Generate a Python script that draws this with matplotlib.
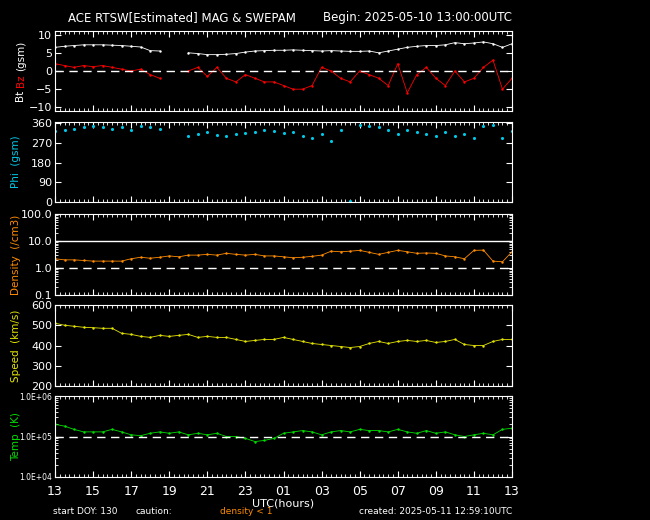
import matplotlib
matplotlib.use('Agg')
import matplotlib.pyplot as plt
import numpy as np

nan = np.nan
hours = np.arange(0, 24.5, 0.5)  # hours since 2025-05-10 13:00 UTC

bt = [6.5, 6.8, 7.0, 7.2, 7.2, 7.2, 7.1, 7.0, 6.8, 6.6, 5.6, 5.5, nan, nan,
      5.0, 4.8, 4.5, 4.5, 4.6, 4.8, 5.2, 5.5, 5.6, 5.7, 5.7, 5.8, 5.7, 5.6,
      5.5, 5.6, 5.5, 5.4, 5.4, 5.5, 5.0, 5.5, 6.0, 6.5, 6.8, 7.0, 7.0, 7.2,
      7.8, 7.5, 7.7, 8.0, 7.5, 6.5, 7.5]
bz = [2.0, 1.5, 1.0, 1.5, 1.2, 1.5, 1.0, 0.5, 0.0, 0.5, -1.0, -2.0, nan, nan,
      0.0, 1.0, -1.5, 1.0, -2.0, -3.0, -1.0, -2.0, -3.0, -3.0, -4.0, -5.0, -5.0, -4.0,
      1.0, 0.0, -2.0, -3.0, 0.0, -1.0, -2.0, -4.0, 2.0, -6.0, -1.0, 1.0, -2.0, -4.0,
      0.0, -3.0, -2.0, 1.0, 3.0, -5.0, -2.0]
phi = [325, 330, 335, 340, 345, 340, 335, 340, 330, 345, 340, 335, nan, nan,
       300, 310, 320, 305, 300, 310, 315, 320, 330, 325, 315, 320, 300, 290,
       310, 280, 330, 5, 350, 345, 340, 330, 310, 330, 320, 310, 300, 320,
       300, 310, 290, 345, 350, 290, 325]
density = [2.2, 2.0, 2.0, 1.9, 1.8, 1.8, 1.8, 1.8, 2.2, 2.5, 2.3, 2.5, 2.8, 2.6,
           3.0, 3.0, 3.2, 3.0, 3.5, 3.2, 3.0, 3.2, 2.8, 2.8, 2.6, 2.4, 2.5, 2.7,
           3.0, 4.2, 4.0, 4.2, 4.5, 3.8, 3.2, 3.8, 4.5, 4.0, 3.5, 3.6, 3.5, 2.8,
           2.6, 2.2, 4.5, 4.6, 1.8, 1.7, 4.0]
speed = [510, 500, 495, 490, 488, 485, 485, 460, 455, 445, 440, 450, 445, 450,
         455, 440, 445, 440, 440, 430, 420, 425, 430, 430, 440, 430, 420, 410,
         405, 400, 395, 390, 395, 410, 420, 410, 420, 425, 420, 425, 415, 420,
         430, 405, 400, 400, 420, 430, 430]
temp = [2.0e5, 1.8e5, 1.5e5, 1.3e5, 1.3e5, 1.3e5, 1.5e5, 1.3e5, 1.1e5, 1.05e5, 1.2e5, 1.3e5, 1.2e5, 1.3e5,
        1.1e5, 1.2e5, 1.1e5, 1.2e5, 1.0e5, 1.0e5, 0.9e5, 0.75e5, 0.8e5, 0.9e5, 1.2e5, 1.3e5, 1.4e5, 1.3e5,
        1.1e5, 1.3e5, 1.4e5, 1.3e5, 1.5e5, 1.4e5, 1.4e5, 1.3e5, 1.5e5, 1.3e5, 1.2e5, 1.4e5, 1.2e5, 1.3e5,
        1.1e5, 1.0e5, 1.1e5, 1.2e5, 1.1e5, 1.5e5, 1.6e5]

xticks = list(range(0, 25, 2))
xlabels = ['13', '15', '17', '19', '21', '23', '01', '03', '05', '07', '09', '11', '13']

plt.rcParams['font.family'] = 'DejaVu Sans'
fig = plt.figure(figsize=(6.5, 5.2), dpi=100, facecolor='black')
W, H = 650, 520
boxes = [(31, 111), (122, 202), (214, 295), (305, 386), (396, 477)]
axes = []
for top, bot in boxes:
    ax = fig.add_axes([55 / W, 1 - bot / H, 457 / W, (bot - top) / H], facecolor='black')
    for s in ax.spines.values():
        s.set_color('white')
    ax.tick_params(colors='white', labelsize=8, direction='in', length=4, right=True, top=True, pad=2)
    ax.tick_params(which='minor', colors='white', direction='in', length=2, right=True, top=True)
    ax.set_xlim(0, 24)
    ax.set_xticks(xticks)
    ax.set_xticks(np.arange(0, 24.1, 0.25), minor=True)
    ax.set_xticklabels([])
    axes.append(ax)

kw = dict(ms=1.5, lw=0.6)
lx = -0.075
ax = axes[0]
ax.plot(hours, bt, '.-', color='white', **kw)
ax.plot(hours, bz, '.-', color='red', **kw)
ax.axhline(0, color='white', ls=(0, (6, 4)), lw=1)
ax.set_ylim(-11, 11)
ax.set_yticks([-10, -5, 0, 5, 10])
ax.text(lx, 0.3, 'Bt ', color='white', fontsize=7.5, rotation=90, transform=ax.transAxes, va='top', ha='center')
ax.text(lx, 0.3, 'Bz', color='red', fontsize=7.5, rotation=90, transform=ax.transAxes, va='bottom', ha='center')
ax.text(lx, 0.5, '(gsm)', color='white', fontsize=7.5, rotation=90, transform=ax.transAxes, va='bottom', ha='center')

ax = axes[1]
ax.plot(hours, phi, '.', color='#00c8e6', ms=2.5)
ax.set_ylim(0, 365)
ax.set_yticks([0, 90, 180, 270, 360])
ax.set_ylabel('Phi  (gsm)', color='#00c8e6', fontsize=7.5)

ax = axes[2]
ax.plot(hours, density, '.-', color='#ff8c00', **kw)
ax.set_yscale('log')
ax.set_ylim(0.1, 100)
ax.set_yticks([0.1, 1, 10, 100])
ax.set_yticklabels(['0.1', '1.0', '10.0', '100.0'])
ax.axhline(10, color='white', lw=1)
ax.axhline(1, color='white', ls=(0, (6, 4)), lw=1)
ax.set_ylabel('Density  (/cm3)', color='#ff8c00', fontsize=7.5)

ax = axes[3]
ax.plot(hours, speed, '.-', color='#e6e600', **kw)
ax.set_ylim(200, 600)
ax.set_yticks([200, 300, 400, 500, 600])
ax.set_ylabel('Speed  (km/s)', color='#e6e600', fontsize=7.5)

ax = axes[4]
ax.plot(hours, temp, '.-', color='#00dd00', **kw)
ax.set_yscale('log')
ax.set_ylim(1e4, 1e6)
ax.set_yticks([1e4, 1e5, 1e6])
ax.set_yticklabels(['1.0E+04', '1.0E+05', '1.0E+06'], fontsize=5.5)
ax.axhline(1e5, color='white', ls=(0, (6, 4)), lw=1)
ax.set_ylabel('Temp  (K)', color='#00dd00', fontsize=7.5)
ax.set_xticklabels(xlabels, fontsize=9)
ax.tick_params(axis='x', pad=6)
ax.set_xlabel('UTC(hours)', color='white', fontsize=8, labelpad=0)

for a in axes[1:]:
    a.yaxis.set_label_coords(lx, 0.5)

fig.text(68 / W, 1 - 18 / H, 'ACE RTSW[Estimated] MAG & SWEPAM', color='white', fontsize=8.5, va='center')
fig.text(512 / W, 1 - 18 / H, 'Begin: 2025-05-10 13:00:00UTC', color='white', fontsize=8.5, va='center', ha='right')
fig.text(53 / W, 1 - 512 / H, 'start DOY: 130', color='white', fontsize=6.5, va='center')
fig.text(136 / W, 1 - 512 / H, 'caution:', color='white', fontsize=6.5, va='center')
fig.text(220 / W, 1 - 512 / H, 'density < 1', color='#ff8c00', fontsize=6.5, va='center')
fig.text(512 / W, 1 - 512 / H, 'created: 2025-05-11 12:59:10UTC', color='white', fontsize=6.5, va='center', ha='right')

fig.savefig('out.png', dpi=100, facecolor='black')
